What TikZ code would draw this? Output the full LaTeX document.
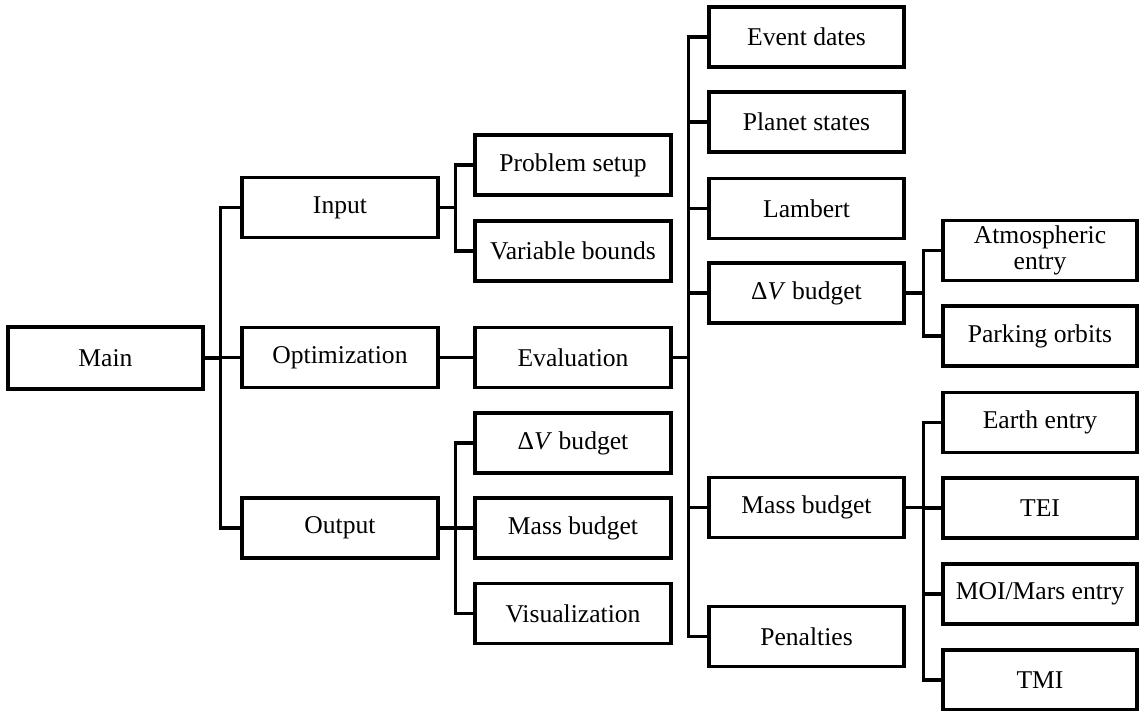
\documentclass[tikz,border=0pt]{standalone}
\usepackage{fontspec}
\setmainfont{Liberation Serif}
\begin{document}
\begin{tikzpicture}[x=1pt,y=-1pt,
  box/.style={draw,line width=3.2pt,rectangle,inner sep=0pt,minimum height=60pt,align=center,font=\fontsize{25.6}{26}\selectfont},
  wA/.style={box,minimum width=195pt},
  wB/.style={box,minimum width=196pt},
  wD/.style={box,minimum width=194pt},
  link/.style={line width=3.2pt}]
\useasboundingbox (0,0) rectangle (1139,711);
% level 0
\node[wA,minimum height=62pt] (main) at (105.5,358) {Main};
% level 1
\node[wB] (input) at (340,207.7) {Input};
\node[wB] (optim) at (340,357.5) {Optimization};
\node[wB] (output) at (340,528) {Output};
% level 2
\node[wB] (setup) at (573,165) {Problem setup};
\node[wB] (bounds) at (573,251) {Variable bounds};
\node[wB] (eval) at (573,357.5) {Evaluation};
\node[wB] (odv) at (573,443) {Δ\textit{V} budget};
\node[wB] (omass) at (573,528) {Mass budget};
\node[wB] (visual) at (573,613.5) {Visualization};
% level 3
\node[wA] (dates) at (806.5,37) {Event dates};
\node[wA] (planet) at (806.5,122) {Planet states};
\node[wA] (lambert) at (806.5,208.5) {Lambert};
\node[wA] (edv) at (806.5,293) {Δ\textit{V} budget};
\node[wA] (emass) at (806.5,507.5) {Mass budget};
\node[wA] (penal) at (806.5,636.7) {Penalties};
% level 4
\node[wD] (atmo) at (1040,250.5) {Atmospheric\\entry};
\node[wD] (park) at (1040,336) {Parking orbits};
\node[wD] (earth) at (1040,422.5) {Earth entry};
\node[wD] (tei) at (1040,508) {TEI};
\node[wD] (moi) at (1040,594) {MOI/Mars entry};
\node[wD] (tmi) at (1040,680) {TMI};
% connectors
\foreach \c in {input,optim,output}
  \draw[link] (\c.west) -- ++(-20,0) |- (main.east);
\foreach \c in {setup,bounds}
  \draw[link] (\c.west) -- ++(-18,0) |- (input.east);
\draw[link] (eval.west) -- (optim.east);
\foreach \c in {odv,omass,visual}
  \draw[link] (\c.west) -- ++(-18,0) |- (output.east);
\foreach \c in {dates,planet,lambert,edv,emass,penal}
  \draw[link] (\c.west) -- ++(-19,0) |- (eval.east);
\foreach \c in {atmo,park}
  \draw[link] (\c.west) -- ++(-18,0) |- (edv.east);
\foreach \c in {earth,tei,moi,tmi}
  \draw[link] (\c.west) -- ++(-18,0) |- (emass.east);
\end{tikzpicture}
\end{document}
